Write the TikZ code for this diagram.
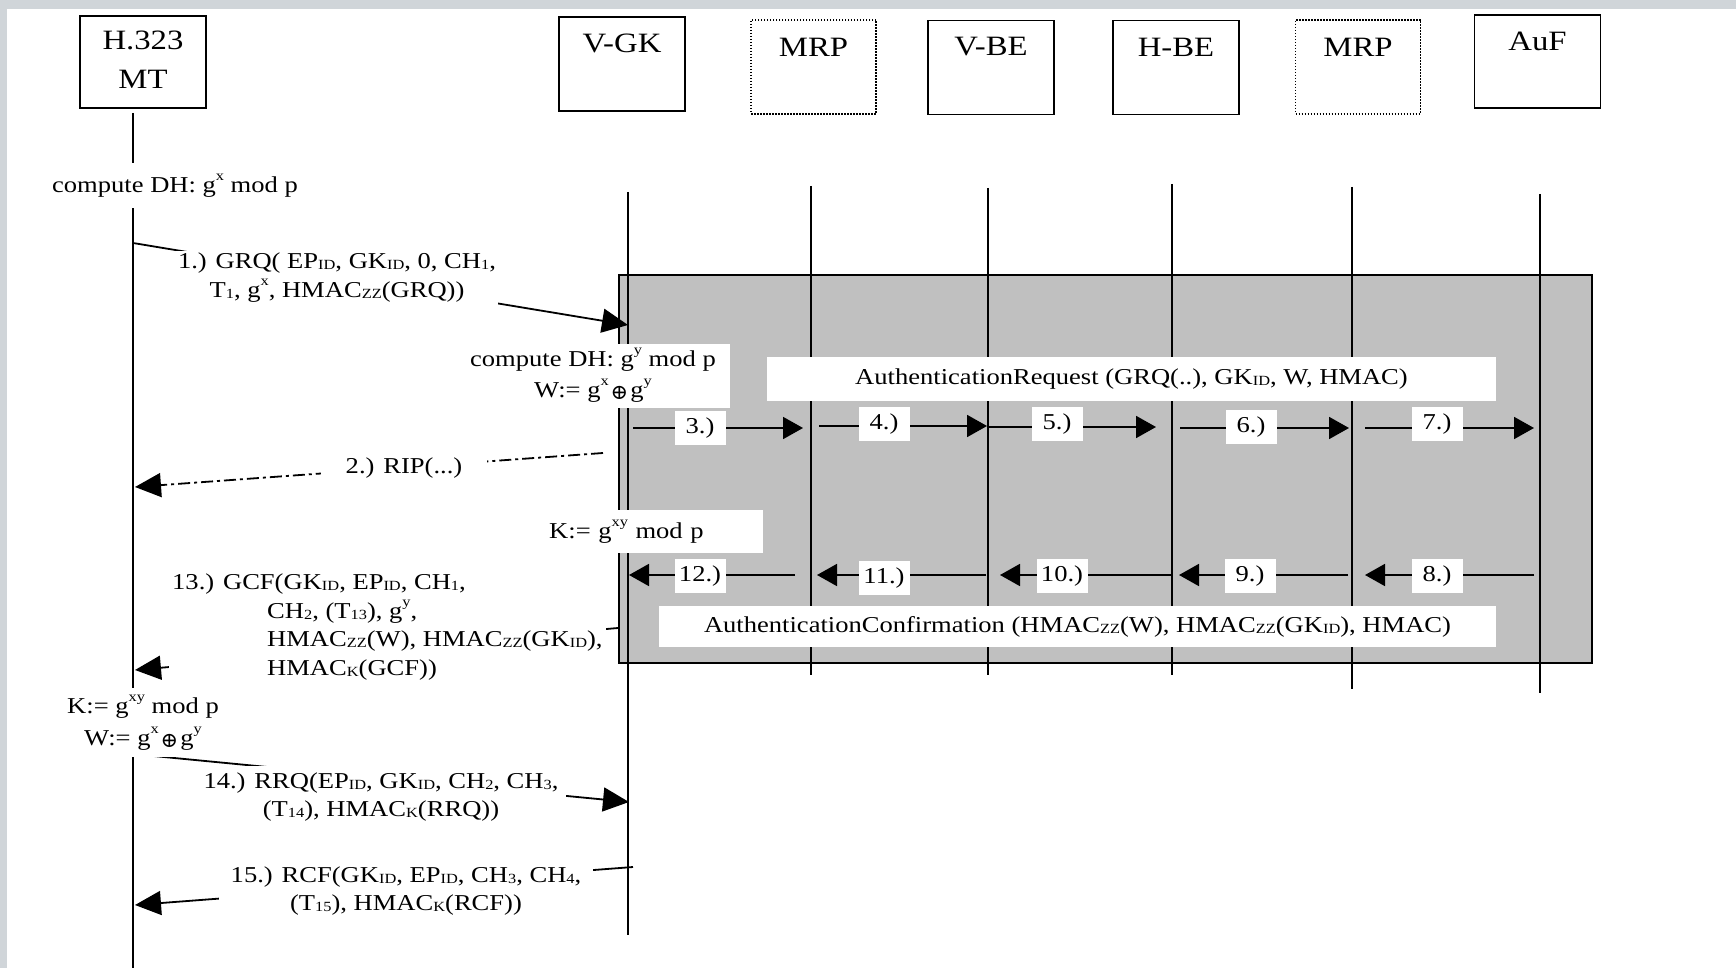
\documentclass[tikz,border=0pt]{standalone}
\usepackage{fontspec}
\setmainfont{Liberation Serif}[FakeStretch=1.17]
\newfontfamily\symfam{DejaVu Serif}
\usetikzlibrary{arrows.meta}
\definecolor{bggray}{RGB}{208,213,217}
\definecolor{areagray}{RGB}{192,192,192}
\newcommand\Lsub[1]{\raisebox{-1pt}{\fontsize{14}{14}\selectfont #1}}
\newcommand\Lsup[1]{\raisebox{12pt}{\fontsize{14}{14}\selectfont #1}}
\newcommand\Lxor{\hspace{2pt}\raisebox{-2pt}{\symfam\fontsize{21}{21}\selectfont ⊕}\hspace{2pt}}
\begin{document}
\begin{tikzpicture}[x=1pt,y=-1pt,
  actorbox/.style={draw, line width=1.8pt, minimum width=126pt, minimum height=94pt, inner sep=0pt},
  mrpbox/.style={draw, line width=1.2pt, dash pattern=on 1.5pt off 1.5pt, minimum width=125pt, minimum height=94pt, inner sep=0pt},
  actortext/.style={font=\fontsize{28}{39}\selectfont, inner sep=0pt, align=center},
  life/.style={line width=1.8pt},
  msg/.style={line width=1.8pt, -{Triangle[length=26pt,width=24pt]}},
  dmsg/.style={msg, dash pattern=on 12pt off 4pt on 3pt off 4pt},
  imsg/.style={line width=1.8pt, -{Triangle[length=20pt,width=22pt]}},
  lbl/.style={font=\fontsize{22.7}{29}\selectfont, inner sep=2pt, fill=white, align=center},
  numlbl/.style={fill=white, minimum width=51pt, minimum height=34pt, inner sep=0pt, font=\fontsize{22.7}{26}\selectfont},
  areabox/.style={draw, line width=1.8pt, fill=areagray, inner sep=0pt}
]
\useasboundingbox (0,0) rectangle (1736,968);
\fill[white] (0,0) rectangle (1736,968);
\fill[bggray] (0,0) rectangle (1736,9);
\fill[bggray] (0,0) rectangle (7,968);

% ---- actor boxes
\node[actorbox, minimum height=92pt] (mt) at (143,62) {};
\node[actortext] (mtT) at (143,59.5) {H.323\\MT};
\node[actorbox] (vgk) at (622,64) {};
\node[actortext] (vgkT) at (622,43) {V-GK};
\node[mrpbox] (mrp1) at (813.5,67) {};
\node[actortext] (mrp1T) at (813.5,47) {MRP};
\node[actorbox] (vbe) at (991,67.5) {};
\node[actortext] (vbeT) at (991,47) {V-BE};
\node[actorbox] (hbe) at (1176,67.5) {};
\node[actortext] (hbeT) at (1176,47) {H-BE};
\node[mrpbox] (mrp2) at (1358,67) {};
\node[actortext] (mrp2T) at (1358,47) {MRP};
\node[actorbox, minimum height=93pt] (auf) at (1537.5,61.5) {};
\node[actortext] (aufT) at (1537.5,41) {AuF};

% ---- shaded area
\node[areabox, minimum width=973pt, minimum height=388pt] (area) at (1105.5,469) {};

% ---- lifelines
\coordinate (mtA) at (133,113);   \coordinate (mtB) at (133,968);
\coordinate (vgkA) at (628,192);  \coordinate (vgkB) at (628,935);
\coordinate (mrp1A) at (811,186); \coordinate (mrp1B) at (811,675);
\coordinate (vbeA) at (988,188);  \coordinate (vbeB) at (988,675);
\coordinate (hbeA) at (1172,184); \coordinate (hbeB) at (1172,675);
\coordinate (mrp2A) at (1352,187);\coordinate (mrp2B) at (1352,689);
\coordinate (aufA) at (1540,194); \coordinate (aufB) at (1540,693);
\draw[life] (mtA) -- (mtB);
\draw[life] (vgkA) -- (vgkB);
\draw[life] (mrp1A) -- (mrp1B);
\draw[life] (vbeA) -- (vbeB);
\draw[life] (hbeA) -- (hbeB);
\draw[life] (mrp2A) -- (mrp2B);
\draw[life] (aufA) -- (aufB);

% ---- messages between MT and V-GK
\coordinate (m1s) at (133,243);  \coordinate (m1e) at (628,325);
\draw[msg] (m1s) -- (m1e);
\node[lbl] (m1L) at (337,278) {1.) GRQ( EP\Lsub{ID}, GK\Lsub{ID}, 0, CH\Lsub{1},\\T\Lsub{1}, g\Lsup{x}, HMAC\Lsub{ZZ}(GRQ))};

\coordinate (m2s) at (603,453);  \coordinate (m2e) at (135,487);
\draw[dmsg] (m2s) -- (m2e);
\node[lbl, inner xsep=25pt] (m2L) at (404,468) {2.) RIP(...)};

\coordinate (m13s) at (618,628); \coordinate (m13e) at (135,670);
\draw[msg] (m13s) -- (m13e);
\node[lbl, align=left, anchor=north west, inner sep=3pt, font=\fontsize{22.7}{28.5}\selectfont] (m13L) at (169,571)
  {13.) GCF(GK\Lsub{ID}, EP\Lsub{ID}, CH\Lsub{1},\\
   \hspace*{95pt}CH\Lsub{2}, (T\Lsub{13}), g\Lsup{y},\\
   \hspace*{95pt}HMAC\Lsub{ZZ}(W), HMAC\Lsub{ZZ}(GK\Lsub{ID}),\\
   \hspace*{95pt}HMAC\Lsub{K}(GCF))};

\coordinate (m14s) at (133,754); \coordinate (m14e) at (629,802);
\draw[msg] (m14s) -- (m14e);
\node[lbl, inner xsep=8pt, inner ysep=7pt, font=\fontsize{22.7}{28}\selectfont] (m14L) at (381,797) {14.) RRQ(EP\Lsub{ID}, GK\Lsub{ID}, CH\Lsub{2}, CH\Lsub{3},\\(T\Lsub{14}), HMAC\Lsub{K}(RRQ))};

\coordinate (m15s) at (633,867); \coordinate (m15e) at (135,905);
\draw[msg] (m15s) -- (m15e);
\node[lbl, inner xsep=12pt, inner ysep=4pt, font=\fontsize{22.7}{28}\selectfont] (m15L) at (406,891) {15.) RCF(GK\Lsub{ID}, EP\Lsub{ID}, CH\Lsub{3}, CH\Lsub{4},\\(T\Lsub{15}), HMAC\Lsub{K}(RCF))};

% ---- computation notes
\node[lbl, minimum height=45pt] (mtDH) at (175,185.5) {compute DH: g\Lsup{x} mod p};
\node[lbl, minimum height=69pt, font=\fontsize{22.7}{32}\selectfont] (mtK) at (143,722.5) {K:= g\Lsup{xy} mod p\\W:= g\Lsup{x}\Lxor g\Lsup{y}};
\node[lbl, minimum width=273pt, minimum height=64pt, font=\fontsize{22.7}{31}\selectfont] (vgkDH) at (593,375.5) {compute DH: g\Lsup{y} mod p\\W:= g\Lsup{x}\Lxor g\Lsup{y}};
\node[lbl, anchor=north west, inner sep=0pt, inner xsep=12pt, text width=202pt, align=left, minimum height=43pt] (vgkK) at (537,510) {K:= g\Lsup{xy} mod p};

% ---- authentication boxes
\node[lbl, inner sep=0pt, minimum width=729pt, minimum height=44pt] (authReq) at (1131.5,379) {AuthenticationRequest (GRQ(..), GK\Lsub{ID}, W, HMAC)};
\node[lbl, inner sep=0pt, minimum width=837pt, minimum height=41pt] (authConf) at (1077.5,626.5) {AuthenticationConfirmation (HMAC\Lsub{ZZ}(W), HMAC\Lsub{ZZ}(GK\Lsub{ID}), HMAC)};

% ---- request chain 3.)-7.)
\coordinate (a3s) at (633,428);  \coordinate (a3e) at (803,428);
\coordinate (a4s) at (819,426);  \coordinate (a4e) at (987,426);
\coordinate (a5s) at (988,427);  \coordinate (a5e) at (1156,427);
\coordinate (a6s) at (1180,428); \coordinate (a6e) at (1349,428);
\coordinate (a7s) at (1365,428); \coordinate (a7e) at (1534,428);
\draw[imsg] (a3s) -- (a3e);
\draw[imsg] (a4s) -- (a4e);
\draw[imsg] (a5s) -- (a5e);
\draw[imsg] (a6s) -- (a6e);
\draw[imsg] (a7s) -- (a7e);
\node[numlbl] (a3L) at (700,428) {3.)};
\node[numlbl] (a4L) at (884,424) {4.)};
\node[numlbl] (a5L) at (1057,424) {5.)};
\node[numlbl] (a6L) at (1251,427) {6.)};
\node[numlbl] (a7L) at (1437,424) {7.)};

% ---- confirmation chain 8.)-12.)
\coordinate (a8s) at (1534,575);  \coordinate (a8e) at (1365,575);
\coordinate (a9s) at (1348,575);  \coordinate (a9e) at (1179,575);
\coordinate (a10s) at (1171,575); \coordinate (a10e) at (1000,575);
\coordinate (a11s) at (986,575);  \coordinate (a11e) at (817,575);
\coordinate (a12s) at (795,575);  \coordinate (a12e) at (629,575);
\draw[imsg] (a8s) -- (a8e);
\draw[imsg] (a9s) -- (a9e);
\draw[imsg] (a10s) -- (a10e);
\draw[imsg] (a11s) -- (a11e);
\draw[imsg] (a12s) -- (a12e);
\node[numlbl] (a8L) at (1437,576) {8.)};
\node[numlbl] (a9L) at (1250,576) {9.)};
\node[numlbl] (a10L) at (1062,576) {10.)};
\node[numlbl] (a11L) at (884,578) {11.)};
\node[numlbl] (a12L) at (700,576) {12.)};
\end{tikzpicture}
\end{document}
